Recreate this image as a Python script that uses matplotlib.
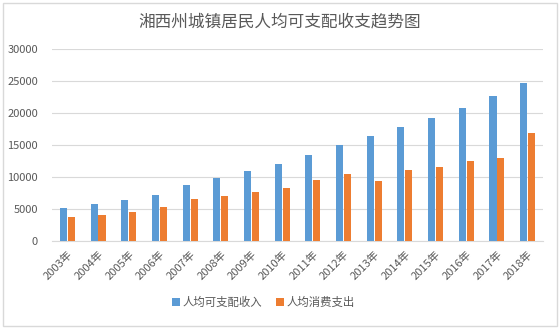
import matplotlib
matplotlib.use("Agg")
import matplotlib.pyplot as plt
import numpy as np
from matplotlib.patches import Rectangle

plt.rcParams['font.family'] = ['Noto Sans CJK SC', 'DejaVu Sans']

years = ['2003年', '2004年', '2005年', '2006年', '2007年', '2008年', '2009年', '2010年',
         '2011年', '2012年', '2013年', '2014年', '2015年', '2016年', '2017年', '2018年']
income = [5160, 5780, 6400, 7190, 8750, 9840, 10940, 12030,
          13440, 15000, 16400, 17810, 19220, 20780, 22660, 24690]
spending = [3800, 4060, 4530, 5310, 6560, 7030, 7650, 8280,
            9530, 10470, 9375, 11090, 11560, 12500, 12970, 16875]
series_names = ['人均可支配收入', '人均消费支出']
title = '湘西州城镇居民人均可支配收支趋势图'
yticks = [0, 5000, 10000, 15000, 20000, 25000, 30000]

W, H = 559, 328
fig = plt.figure(figsize=(W / 100, H / 100), dpi=100)
fig.patches.append(Rectangle((2.5 / W, 2.5 / H), (W - 5) / W, (H - 5) / H,
                             transform=fig.transFigure, fill=False,
                             edgecolor='#D9D9D9', linewidth=1))
ax = fig.add_axes([52 / W, (H - 241) / H, (543 - 52) / W, (241 - 49) / H])

x = np.arange(len(years))
w = 0.23
ax.bar(x - 0.13, income, width=w, color='#5B9BD5', label=series_names[0], zorder=3)
ax.bar(x + 0.13, spending, width=w, color='#ED7D31', label=series_names[1], zorder=3)

ax.set_xlim(-0.5, len(years) - 0.5)
ax.set_ylim(0, 30000)
ax.set_yticks(yticks)
ax.set_yticklabels([str(v) for v in yticks])
ax.grid(axis='y', color='#D9D9D9', linewidth=0.8, zorder=0)
ax.set_xticks(x)
ax.set_xticklabels(years, rotation=45, ha='right', rotation_mode='anchor')
ax.tick_params(axis='both', length=0, colors='#595959', labelsize=8)
ax.tick_params(axis='x', pad=6)
ax.tick_params(axis='y', pad=10)
for s in ['left', 'right', 'top']:
    ax.spines[s].set_visible(False)
ax.spines['bottom'].set_color('#D9D9D9')

fig.text(0.5, (H - 22) / H, title, ha='center', va='center', fontsize=12,
         color='#595959', fontweight='medium')

leg = fig.legend(loc='center', bbox_to_anchor=(263.5 / W, (H - 302) / H), ncol=2,
                 frameon=False, fontsize=8.2, handlelength=0.7, handleheight=0.7,
                 handletextpad=0.2, columnspacing=1.2)
for t in leg.get_texts():
    t.set_color('#595959')

fig.savefig('out.png', dpi=100)
